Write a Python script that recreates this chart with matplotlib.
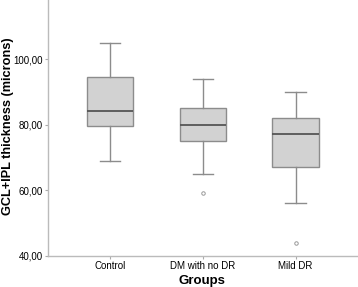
import matplotlib
matplotlib.use("Agg")
import matplotlib.pyplot as plt

# Box plot summary values
groups = ["Control", "DM with no DR", "Mild DR"]
whislo = [69, 65, 56]
q1 = [79.5, 75, 67]
med = [84, 80, 77]
q3 = [94.5, 85, 82]
whishi = [105, 94, 90]
fliers = [[], [59], [44]]
yticks = [40, 60, 80, 100]

stats = []
for i, g in enumerate(groups):
    stats.append(dict(label=g, whislo=whislo[i], q1=q1[i], med=med[i],
                      q3=q3[i], whishi=whishi[i], fliers=fliers[i]))

plt.rcParams['font.family'] = ['Liberation Sans', 'DejaVu Sans']

fig = plt.figure(figsize=(3.58, 2.87), dpi=100)
ax = fig.add_axes([0.133, 0.109, 0.864, 0.891])

edge = '#8c8c8c'
ax.bxp(stats, positions=[1, 2, 3], widths=0.5, patch_artist=True,
       boxprops=dict(facecolor='#d2d2d2', edgecolor=edge, linewidth=1),
       medianprops=dict(color='#555555', linewidth=1.3),
       whiskerprops=dict(color=edge, linewidth=1),
       capprops=dict(color=edge, linewidth=1),
       capwidths=0.22,
       flierprops=dict(marker='o', markersize=2.5, markerfacecolor='none',
                       markeredgecolor='#999999', markeredgewidth=0.7))

ax.set_xlim(0.33, 3.66)
ax.set_ylim(40, 118)
ax.set_yticks(yticks)
ax.set_yticklabels([f"{v},00" for v in yticks], fontsize=7)
ax.set_xticks([1, 2, 3])
ax.set_xticklabels(groups, fontsize=7)
ax.tick_params(axis='both', length=2, color='#aaaaaa', pad=1.5)

for s in ['top', 'right']:
    ax.spines[s].set_visible(False)
for s in ['left', 'bottom']:
    ax.spines[s].set_color('#bbbbbb')
    ax.spines[s].set_linewidth(1)

ax.set_ylabel("GCL+IPL thickness (microns)", fontsize=9.2, fontweight='bold')
ax.yaxis.set_label_coords(-0.108, 0.507)
ax.set_xlabel("Groups", fontsize=9.5, fontweight='bold', labelpad=3)

fig.savefig("out.png", dpi=100)
